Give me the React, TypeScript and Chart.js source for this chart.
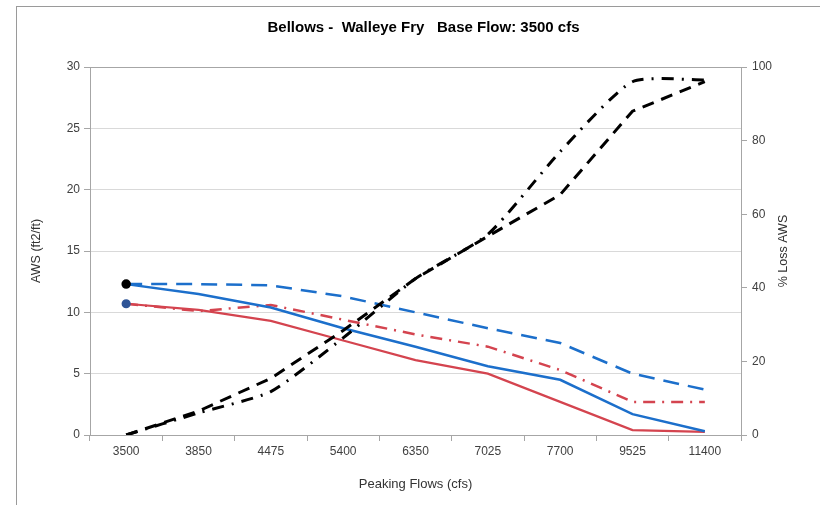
import React, { useEffect, useRef } from "react";
import { Chart, registerables } from "chart.js";

Chart.register(...registerables);

const categories = ["3500", "3850", "4475", "5400", "6350", "7025", "7700", "9525", "11400"];
const awsBlueSolid = [12.3, 11.5, 10.4, 8.7, 7.2, 5.6, 4.5, 1.7, 0.3];
const awsRedSolid = [10.7, 10.2, 9.3, 7.7, 6.1, 5.0, 2.7, 0.4, 0.25];
const awsBlueDashed = [12.3, 12.3, 12.2, 11.3, 10.0, 8.7, 7.5, 5.0, 3.7];
const awsRedDashDot = [10.7, 10.1, 10.6, 9.4, 8.2, 7.2, 5.3, 2.7, 2.7];
const lossDashed = [0, 6.5, 15.4, 28.4, 42.5, 54, 65.3, 88, 96];
const lossDashDot = [0, 6, 11.8, 26.4, 42.5, 54.5, 77, 96, 96.5];

const BLUE = "#1c6fcb";
const RED = "#d4444f";
const FONT = "'Liberation Sans', Arial, sans-serif";

const rightTitlePlugin = {
  id: "rightTitle",
  afterDraw(chart: any) {
    const ctx = chart.ctx;
    const area = chart.chartArea;
    ctx.save();
    ctx.translate(784, (area.top + area.bottom) / 2);
    ctx.rotate(-Math.PI / 2);
    ctx.font = `12.5px ${FONT}`;
    ctx.fillStyle = "#333";
    ctx.textAlign = "center";
    ctx.textBaseline = "middle";
    ctx.fillText("% Loss AWS", 0, 0);
    ctx.restore();
  },
};

export default function App() {
  const ref = useRef<HTMLCanvasElement>(null);
  useEffect(() => {
    if (!ref.current) return;
    const firstOnly = (r: number) => categories.map((_, i) => (i === 0 ? r : 0));
    const chart = new Chart(ref.current, {
      type: "line",
      data: {
        labels: categories,
        datasets: [
          {
            label: "Loss dashed",
            data: lossDashed,
            yAxisID: "y1",
            borderColor: "#000",
            borderWidth: 3,
            borderDash: [12, 8],
            pointRadius: 0,
            tension: 0,
          },
          {
            label: "Loss dash-dot",
            data: lossDashDot,
            yAxisID: "y1",
            borderColor: "#000",
            borderWidth: 3,
            borderDash: [12, 8, 2, 8],
            pointRadius: 0,
            tension: 0.2,
          },
          {
            label: "AWS blue",
            data: awsBlueSolid,
            yAxisID: "y",
            borderColor: BLUE,
            borderWidth: 2.5,
            pointRadius: firstOnly(3.5),
            pointBackgroundColor: "#000",
            pointBorderColor: "#000",
            tension: 0,
          },
          {
            label: "AWS red",
            data: awsRedSolid,
            yAxisID: "y",
            borderColor: RED,
            borderWidth: 2.2,
            pointRadius: firstOnly(3.5),
            pointBackgroundColor: "#2f5597",
            pointBorderColor: "#2f5597",
            tension: 0,
          },
          {
            label: "AWS blue dashed",
            data: awsBlueDashed,
            yAxisID: "y",
            borderColor: BLUE,
            borderWidth: 2.5,
            borderDash: [16, 9],
            pointRadius: 0,
            tension: 0,
          },
          {
            label: "AWS red dash-dot",
            data: awsRedDashDot,
            yAxisID: "y",
            borderColor: RED,
            borderWidth: 2.5,
            borderDash: [12, 7, 2, 7],
            pointRadius: 0,
            tension: 0,
          },
        ],
      },
      options: {
        responsive: false,
        animation: false,
        layout: { padding: { left: 27, right: 0, top: 0, bottom: 0 } },
        plugins: {
          legend: { display: false },
          tooltip: { enabled: false },
          title: {
            display: true,
            text: "Bellows -  Walleye Fry   Base Flow: 3500 cfs",
            color: "#000",
            font: { family: FONT, size: 15, weight: "bold" },
            padding: { top: 19, bottom: 30 },
          },
        },
        scales: {
          x: {
            type: "category",
            offset: true,
            grid: {
              offset: true,
              drawOnChartArea: false,
              drawTicks: true,
              tickLength: 6,
              color: "#a6a6a6",
            },
            border: { display: true, color: "#a6a6a6" },
            ticks: {
              color: "#404040",
              font: { family: FONT, size: 12 },
              padding: 3,
              maxRotation: 0,
              autoSkip: false,
            },
            title: {
              display: true,
              text: "Peaking Flows (cfs)",
              color: "#333",
              font: { family: FONT, size: 13 },
              padding: { top: 0, bottom: 13 },
            },
            afterFit(scale: any) {
              scale.height = 70;
            },
          },
          y: {
            position: "left",
            min: 0,
            max: 30,
            ticks: {
              stepSize: 5,
              color: "#404040",
              font: { family: FONT, size: 12 },
              padding: 4,
            },
            grid: {
              color: (ctx: any) => (ctx.tick && ctx.tick.value === 30 ? "#a6a6a6" : "#d9d9d9"),
              tickColor: "#a6a6a6",
              tickLength: 6,
              lineWidth: 1,
            },
            border: { display: true, color: "#a6a6a6" },
            title: {
              display: true,
              text: "AWS (ft2/ft)",
              color: "#333",
              font: { family: FONT, size: 12.5 },
              padding: { top: 2.5, bottom: 0 },
            },
            afterFit(scale: any) {
              scale.width = 63;
            },
          },
          y1: {
            position: "right",
            min: 0,
            max: 100,
            ticks: {
              stepSize: 20,
              color: "#404040",
              font: { family: FONT, size: 12 },
              padding: 5,
            },
            grid: {
              drawOnChartArea: false,
              tickLength: 6,
              color: "#a6a6a6",
            },
            border: { display: true, color: "#a6a6a6" },
            title: { display: false },
            afterFit(scale: any) {
              scale.width = 79;
            },
          },
        },
      },
      plugins: [rightTitlePlugin],
    } as any);
    return () => chart.destroy();
  }, []);

  return (
    <div
      style={{
        position: "absolute",
        left: 0,
        top: 0,
        width: 820,
        height: 505,
        overflow: "hidden",
        background: "#fff",
      }}
    >
      <div
        style={{
          position: "absolute",
          left: 16,
          top: 6,
          width: 900,
          height: 600,
          border: "1px solid #9a9a9a",
        }}
      />
      <canvas
        ref={ref}
        width={820}
        height={505}
        style={{ position: "absolute", left: 0, top: 0, width: 820, height: 505 }}
      />
    </div>
  );
}
